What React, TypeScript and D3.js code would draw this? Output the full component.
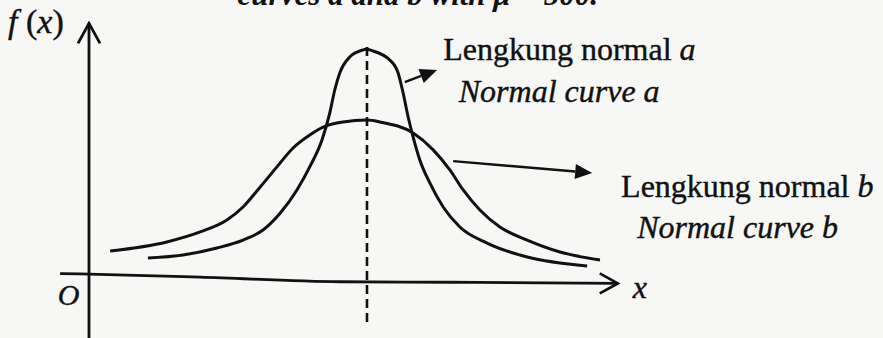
import React, { Component } from "react";
import * as d3 from "d3";

const W = 883;
const H = 338;

// curve a (narrow), x against f(x)
const xA = [106, 169, 230, 277, 313, 344, 374, 397, 419, 433, 442, 451, 469, 493, 500, 505, 541, 556, 565, 574, 583, 595, 613, 637, 667, 716, 788, 896];
const fA = [0.103, 0.116, 0.146, 0.18, 0.223, 0.296, 0.395, 0.494, 0.609, 0.725, 0.824, 0.897, 0.966, 0.996, 1.0, 0.996, 0.953, 0.897, 0.811, 0.708, 0.622, 0.524, 0.425, 0.322, 0.236, 0.167, 0.107, 0.069];

// curve b (wide)
const xB = [38, 140, 200, 248, 277, 308, 338, 367, 397, 421, 457, 500, 523, 583, 619, 649, 673, 703, 739, 788, 847, 919];
const fB = [0.133, 0.172, 0.215, 0.266, 0.322, 0.408, 0.494, 0.575, 0.631, 0.665, 0.687, 0.695, 0.687, 0.639, 0.567, 0.481, 0.395, 0.309, 0.236, 0.18, 0.129, 0.094];

// the x axis in the scan is not quite level
const axisX = [-52, 0, 200, 451, 649, 951];
const axisF = [0.036, 0.034, 0.021, 0.001, -0.001, -0.006];

const mu = 500;

const labelA = ["Lengkung normal ", "a"];
const labelAEn = "Normal curve a";
const labelB = ["Lengkung normal ", "b"];
const labelBEn = "Normal curve b";
const caption = "curves a and b with \u03bc = 500.";

const SERIF = "'Liberation Serif', 'DejaVu Serif', serif";
const INK = "#111";

class App extends Component {
  el = null;

  createSVG() {
    d3.select(this.el).selectAll("*").remove();
    return d3.select(this.el).append("svg")
        .attr("width", W)
        .attr("height", H)
        .style("position", "absolute")
        .style("left", 0)
        .style("top", 0)
        .style("background", "#f7f7f5");
  }

  drawChart(svg) {
    const x = d3.scaleLinear().domain([0, mu]).range([89, 367]);
    const y = d3.scaleLinear().domain([0, 1]).range([282, 49]);

    const line = d3.line().x((d) => x(d[0])).y((d) => y(d[1])).curve(d3.curveMonotoneX);

    // x axis with open arrow head
    const axisPts = axisX.map((v, i) => [v, axisF[i]]);
    svg.append("path")
        .attr("d", line(axisPts))
        .attr("fill", "none").attr("stroke", INK).attr("stroke-width", 2.8);
    const tipX = x(axisX[axisX.length - 1]);
    const tipY = y(axisF[axisF.length - 1]);
    svg.append("path")
        .attr("d", `M${tipX - 18},${tipY - 10}L${tipX},${tipY}L${tipX - 18},${tipY + 10}`)
        .attr("fill", "none").attr("stroke", INK).attr("stroke-width", 2.8);

    // y axis
    const y0 = x(0);
    svg.append("line")
        .attr("x1", y0).attr("x2", y0)
        .attr("y1", H).attr("y2", y(1.11))
        .attr("stroke", INK).attr("stroke-width", 2.8);
    const yt = y(1.11);
    svg.append("path")
        .attr("d", `M${y0 - 11},${yt + 20}L${y0},${yt}L${y0 + 11},${yt + 20}`)
        .attr("fill", "none").attr("stroke", INK).attr("stroke-width", 2.8);

    // mean line
    svg.append("line")
        .attr("x1", x(mu)).attr("x2", x(mu))
        .attr("y1", y(1.009)).attr("y2", y(-0.176))
        .attr("stroke", INK).attr("stroke-width", 2.6)
        .attr("stroke-dasharray", "9,5");

    svg.append("path")
        .attr("d", line(xB.map((v, i) => [v, fB[i]])))
        .attr("fill", "none").attr("stroke", INK).attr("stroke-width", 3);
    svg.append("path")
        .attr("d", line(xA.map((v, i) => [v, fA[i]])))
        .attr("fill", "none").attr("stroke", INK).attr("stroke-width", 3);

    // pointer arrows to the labels
    const pointer = (from, to) => {
      const x1 = x(from[0]), y1 = y(from[1]);
      const x2 = x(to[0]), y2 = y(to[1]);
      const a = Math.atan2(y2 - y1, x2 - x1);
      const len = 17, half = 7.5;
      const bx = x2 - len * Math.cos(a), by = y2 - len * Math.sin(a);
      svg.append("line")
          .attr("x1", x1).attr("y1", y1).attr("x2", bx).attr("y2", by)
          .attr("stroke", INK).attr("stroke-width", 2.4);
      svg.append("path")
          .attr("d", `M${x2},${y2}L${bx + half * Math.sin(a)},${by - half * Math.cos(a)}L${bx - half * Math.sin(a)},${by + half * Math.cos(a)}Z`)
          .attr("fill", INK);
    };
    pointer([568, 0.858], [626, 0.91]);
    pointer([655, 0.519], [905, 0.468]);

    const text = (px, py, parts, italic, size = 32) => {
      const t = svg.append("text")
          .attr("x", px).attr("y", py)
          .attr("font-family", SERIF).attr("font-size", size)
          .attr("fill", INK)
          .attr("stroke", INK).attr("stroke-width", 0.4);
      parts.forEach((p, i) => {
        t.append("tspan").text(p)
            .attr("font-style", italic || i === 1 ? "italic" : "normal");
      });
      return t;
    };

    text(x(637), y(0.953), labelA, false);
    text(x(665), y(0.773), [labelAEn], true);
    text(x(957), y(0.365), labelB, false);
    text(x(986), y(0.189), [labelBEn], true);

    text(x(978), y(-0.069), ["x"], true, 32);
    text(x(-56), y(-0.099), ["O"], true, 30);

    const fx = svg.append("text")
        .attr("x", 8).attr("y", y(1.069))
        .attr("font-family", SERIF).attr("font-size", 34).attr("fill", INK)
        .attr("stroke", INK).attr("stroke-width", 0.4);
    fx.append("tspan").text("f").attr("font-style", "italic");
    fx.append("tspan").text(" (");
    fx.append("tspan").text("x").attr("font-style", "italic");
    fx.append("tspan").text(")");

    // caption of the figure, cut off at the top of the scan
    svg.append("text")
        .attr("x", 598).attr("y", 5)
        .attr("text-anchor", "end")
        .attr("font-family", SERIF).attr("font-size", 31)
        .attr("font-style", "italic").attr("font-weight", "bold")
        .attr("fill", INK)
        .text(caption);
  }

  componentDidMount() {
    const svg = this.createSVG();
    this.drawChart(svg);
  }

  render() {
    return <div ref={(el) => (this.el = el)} />;
  }
}

export default App;
